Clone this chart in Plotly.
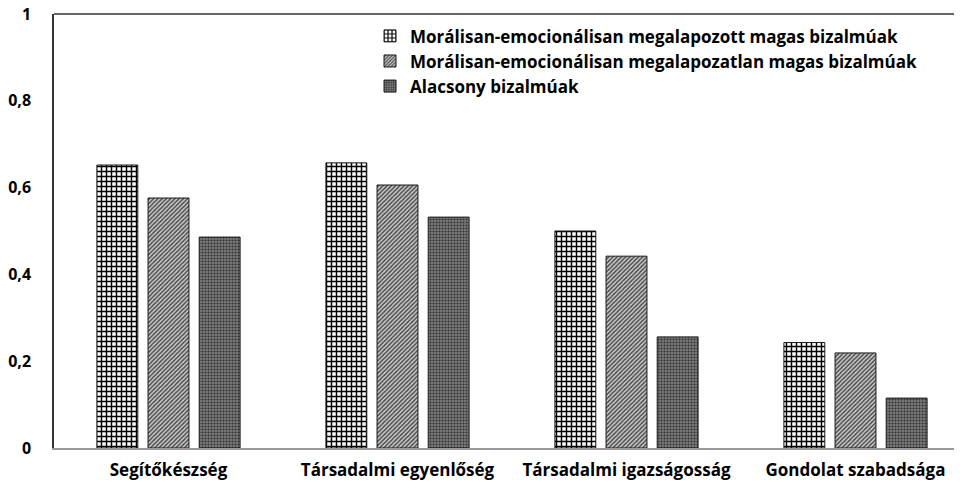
import plotly.graph_objects as go

categories = ["Segítőkészség", "Társadalmi egyenlőség", "Társadalmi igazságosság", "Gondolat szabadsága"]
series_names = [
    "Morálisan-emocionálisan megalapozott magas bizalmúak",
    "Morálisan-emocionálisan megalapozatlan magas bizalmúak",
    "Alacsony bizalmúak",
]
high_grounded = [0.652, 0.657, 0.500, 0.243]
high_ungrounded = [0.576, 0.606, 0.442, 0.219]
low_trust = [0.486, 0.532, 0.256, 0.115]
ytick_vals = [0, 0.2, 0.4, 0.6, 0.8, 1]
ytick_text = ["0", "0,2", "0,4", "0,6", "0,8", "1"]

FONT = "Open Sans"

patterns = [
    dict(shape="+", fgcolor="#000000", bgcolor="#ffffff", size=5, solidity=0.5, fillmode="replace"),
    dict(shape="/", fgcolor="#4a4a4a", bgcolor="#cfcfcf", size=3, solidity=0.5, fillmode="replace"),
    dict(shape=".", fgcolor="#333333", bgcolor="#7a7a7a", size=3, solidity=0.4, fillmode="replace"),
]

fig = go.Figure()
for name, vals, pat in zip(series_names, [high_grounded, high_ungrounded, low_trust], patterns):
    fig.add_trace(go.Bar(
        x=categories, y=vals, name=name,
        marker=dict(pattern=pat, line=dict(color="#1a1a1a", width=1)),
    ))

fig.update_layout(
    width=962, height=488,
    margin=dict(l=46, r=0, t=6, b=48, autoexpand=False),
    paper_bgcolor="white", plot_bgcolor="white",
    barmode="group", bargap=0.33, bargroupgap=0.2,
    font=dict(family=FONT, size=16, color="#000000"),
    showlegend=True,
    legend=dict(
        x=0.345, y=0.99, xanchor="left", yanchor="top",
        font=dict(family=FONT, size=17, color="#000000", weight="bold"),
        bgcolor="rgba(0,0,0,0)", tracegroupgap=0, itemwidth=30,
    ),
    shapes=[dict(type="line", xref="paper", yref="paper", x0=0, x1=1, y0=1, y1=1,
                 line=dict(color="#333333", width=1.5))],
)
fig.update_xaxes(
    type="category", range=[-0.5, 3.5], automargin=False,
    showline=True, linecolor="#999999", linewidth=1.5,
    ticks="", showgrid=False, ticklabelstandoff=6,
    tickfont=dict(family=FONT, size=17, color="#000000", weight="bold"),
)
fig.update_yaxes(
    range=[0, 1], tickvals=ytick_vals, ticktext=ytick_text, automargin=False,
    showline=True, linecolor="#333333", linewidth=1.5,
    showgrid=False, zeroline=False, ticks="",
    ticklabelstandoff=18, ticklabeloverflow="allow",
    tickfont=dict(family=FONT, size=16, color="#000000", weight="bold"),
)

fig.write_html("out.html")
